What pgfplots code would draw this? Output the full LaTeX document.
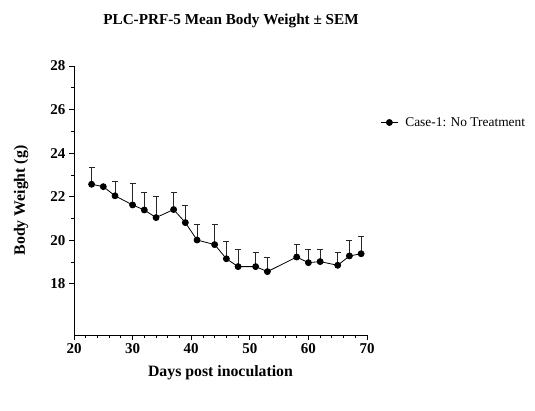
\documentclass[border=0pt]{standalone}
\usepackage{pgfplots}
\pgfplotsset{compat=1.18}
\usepackage{pgfplotstable}
\usepackage{fontspec}
\setmainfont{Liberation Serif}
\pgfplotstableread{
x y e
23 22.57 0.77
25 22.46 0.00
27 22.04 0.66
30 21.62 0.97
32 21.39 0.79
34 21.04 0.99
37 21.41 0.80
39 20.81 0.81
41 20.01 0.74
44 19.80 0.94
46 19.15 0.81
48 18.79 0.77
51 18.79 0.64
53 18.56 0.66
58 19.23 0.59
60 18.97 0.59
62 19.02 0.56
65 18.85 0.58
67 19.28 0.69
69 19.38 0.80
}\datatable
\begin{document}
\begin{tikzpicture}[x=1pt,y=1pt]
\useasboundingbox (0,0) rectangle (535,411);
\node[font=\bfseries\fontsize{15.2}{18}\selectfont] at (231,390) {PLC-PRF-5 Mean Body Weight ± SEM};
\begin{axis}[
  at={(74pt,76pt)}, anchor=south west,
  scale only axis, width=293pt, height=269pt,
  xmin=20, xmax=70, ymin=15.65, ymax=28,
  axis lines*=left,
  axis line style={line width=0.8pt},
  xtick={20,30,...,70}, ytick={18,20,...,28},
  minor x tick num=4, minor y tick num=1,
  tick align=outside,
  major tick length=5pt, minor tick length=3pt,
  tick style={line width=0.8pt, black},
  /pgf/number format/assume math mode=true,
  ticklabel style={font=\bfseries\fontsize{15}{17}\selectfont},
  xlabel={Days post inoculation},
  ylabel={Body Weight (g)},
  label style={font=\bfseries\fontsize{15.8}{18}\selectfont},
  xlabel style={at={(axis description cs:0.5,-0.14)}, anchor=center},
  ylabel style={at={(axis description cs:-0.18,0.5)}, anchor=center},
  legend style={at={(1.035,0.79)}, anchor=west, draw=none, fill=none, font=\fontsize{13.4}{15}\selectfont},
  legend cell align=left,
  clip=false,
]
\addplot[black, line width=0.8pt, mark=*, mark size=3pt,
  error bars/.cd, y dir=plus, y explicit,
  error bar style={line width=0.8pt, black!85},
  error mark options={rotate=90, mark size=3pt, line width=0.8pt, black!85}]
  table[x=x, y=y, y error=e] {\datatable};
\addlegendentry{\hspace{5pt}Case-1: No Treatment}
\end{axis}
\end{tikzpicture}
\end{document}
